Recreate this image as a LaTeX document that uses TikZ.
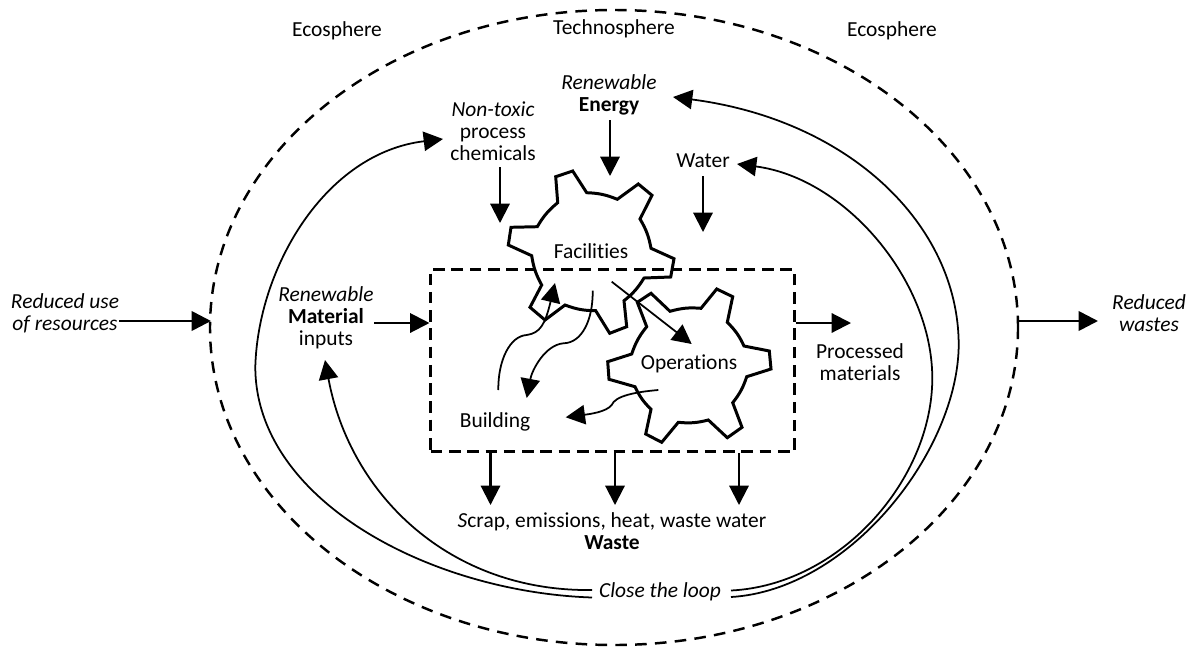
\documentclass[tikz,border=0pt]{standalone}
\usepackage{fontspec}
\setmainfont[Ligatures=NoCommon]{Carlito}
\usetikzlibrary{arrows.meta}

\begin{document}
\begin{tikzpicture}
            [x=0.02cm,y=-0.02cm,
            every node/.style={font=\fontsize{12.2}{12.4}\selectfont,align=center,inner sep=0pt},
            flow/.style={line width=1.2pt,-{Triangle[length=11pt,width=11pt]}},
            heavyflow/.style={line width=1.5pt,-{Triangle[length=11pt,width=11pt]}},
            loopflow/.style={line width=1pt,-{Triangle[length=11pt,width=11pt]}},
            gear/.style={line width=1.7pt,line join=miter},
            spheredash/.style={line width=1.4pt,dash pattern=on 6.6pt off 4.7pt},
            boxdash/.style={line width=1.5pt,dash pattern=on 6.6pt off 3.8pt}]
            \useasboundingbox (0,0) rectangle (1189,646);
            % the spheres
            \draw[spheredash] (614,327.5) ellipse [x radius=404,y radius=317.5];
            \node (ecoleft) at (337,31) {Ecosphere};
            \node (techno) at (614,29) {Technosphere};
            \node (ecoright) at (892,31) {Ecosphere};
            % the gears
            \draw[gear] (572.7,171) -- (586.7,192.7) to[bend left=10] (617.3,199.3) -- (638.3,184)
                -- (652,195.3) -- (640,219) to[bend left=10] (651,248.3) -- (674,258.7)
                -- (670.7,277) -- (644,278) to[bend left=10] (624,300.7) -- (626.7,326.7)
                -- (609.7,333.3) -- (595.7,310.7) to[bend left=10] (565,305) -- (545,320)
                -- (530,307.3) -- (541.7,285) to[bend left=10] (531.7,255.7) -- (508.3,245)
                -- (511,227.3) -- (537.3,226.7) to[bend left=10] (557.7,202.7) -- (555.7,176.7)
                -- cycle;
            \draw[gear] (651,293.3) -- (670,311.3) to[bend left=10] (701,308.3) -- (716.7,289)
                -- (732.7,296.7) -- (727.3,322.3) to[bend left=10] (744,346) -- (769.3,351)
                -- (771,369) -- (746.7,376.7) to[bend left=10] (732.7,402.7) -- (742,427.3)
                -- (727.3,437.7) -- (708.3,420) to[bend left=10] (678.3,422.3) -- (661.7,442.3)
                -- (645.7,434) -- (651,409.3) to[bend left=10] (635,386.7) -- (609,379.3)
                -- (607.7,361.7) -- (631.7,354) to[bend left=10] (646.7,326.7) -- (637.3,302.3)
                -- cycle;
            \node (facilities) at (591,251) {Facilities};
            \node (operations) at (689,364) {Operations};
            \node (building) at (495,422) {Building};
            % the process box
            \node[draw,boxdash,minimum width=7.27cm,minimum height=3.65cm] (box) at (612.5,360.5) {};
            % the labels
            \node (resources) at (65,313) {\textit{Reduced use}\\\textit{of resources}};
            \node (wastes) at (1149,313) {\textit{Reduced}\\\textit{wastes}};
            \node (material) at (326,318) {\textit{Renewable}\\\textbf{Material}\\inputs};
            \node (chemicals) at (493,131) {\textit{Non-toxic}\\process\\chemicals};
            \node (energy) at (609,95) {\textit{Renewable}\\\textbf{Energy}};
            \node (water) at (703,161) {Water};
            \node (processed) at (860,362) {Processed\\materials};
            \node (waste) at (612,531) {\textit{S}crap, emissions, heat, waste water\\\textbf{Waste}};
            \node (close) at (660,592) {\textit{Close the loop}};
            % ends of the arrows
            \coordinate (ellipseW) at (211,321);
            \coordinate (ellipseE) at (1018,321);
            \coordinate (wastesW) at (1098,321);
            \coordinate (materialE) at (374,323);
            \coordinate (chemT) at (500,167);
            \coordinate (chemB) at (500,223);
            \coordinate (energyT) at (610,120);
            \coordinate (energyB) at (610,176);
            \coordinate (waterT) at (703,176);
            \coordinate (waterB) at (703,232);
            \coordinate (outR) at (851,323);
            \coordinate (wasteA) at (490.5,505);
            \coordinate (wasteB) at (615,505);
            \coordinate (wasteC) at (739,505);
            \coordinate (loopLa) at (592,590);
            \coordinate (loopLb) at (592,597.5);
            \coordinate (loopRa) at (731,590.5);
            \coordinate (loopRb) at (731,597);
            \coordinate (chemL) at (443,139);
            \coordinate (materialS) at (325,360);
            \coordinate (energyR) at (673,97);
            \coordinate (waterR) at (737,164);
            % straight arrows
            \draw[heavyflow] (resources.east |- ellipseW) -- (ellipseW);
            \draw[heavyflow] (ellipseE) -- (wastesW);
            \draw[flow] (materialE) -- (box.west |- materialE);
            \draw[flow] (box.east |- outR) -- (outR);
            \draw[flow] (chemT) -- (chemB);
            \draw[flow] (energyT) -- (energyB);
            \draw[flow] (waterT) -- (waterB);
            \draw[flow] (box.south -| wasteA) -- (wasteA);
            \draw[flow] (box.south -| wasteB) -- (wasteB);
            \draw[flow] (box.south -| wasteC) -- (wasteC);
            % the loops
            \draw[loopflow] (loopLb) .. controls (430,592) and (255.3,500) .. (255.3,366.7)
                .. controls (258,268) and (325,153) .. (chemL);
            \draw[loopflow] (loopLa) .. controls (450,592) and (350,495) .. (materialS);
            \draw[loopflow] (loopRb) .. controls (850,590) and (958.7,450) .. (958.7,344)
                .. controls (958,225) and (850,120) .. (energyR);
            \draw[loopflow] (loopRa) .. controls (840,585) and (932.3,480) .. (932.3,378)
                .. controls (932,280) and (845,178) .. (waterR);
            % inside the box
            \draw[loopflow] (498.3,390) .. controls (498,360) and (510,336) .. (526.7,335)
                .. controls (540,333) and (545,325) .. (555,283);
            \draw[loopflow] (592.7,290.7) .. controls (593,320) and (582,343) .. (563.3,343.3)
                .. controls (545,345) and (532,370) .. (526.7,398);
            \draw[loopflow] (611.7,281.7) -- (691.7,344);
            \draw[loopflow] (658.3,390) .. controls (635,392) and (615,396) .. (611.7,405)
                .. controls (606,412) and (590,414) .. (565.7,417.3);
        \end{tikzpicture}
\end{document}
